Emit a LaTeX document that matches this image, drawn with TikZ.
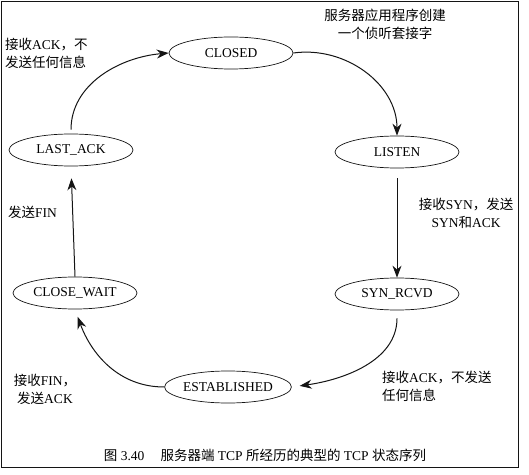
\documentclass[tikz,border=0pt]{standalone}
\usepackage{fontspec}
\setmainfont{Liberation Serif}
\newfontfamily\cjk{Noto Sans CJK SC}
\usetikzlibrary{arrows.meta, shapes.geometric}
\newcommand{\zh}[1]{{\cjk #1}}
\definecolor{ink}{RGB}{20,20,20}
\tikzset{
  stateNode/.style={
    draw=ink,
    line width=0.7pt,
    ellipse,
    minimum width=124pt,
    minimum height=32pt,
    inner sep=0pt,
    font=\fontsize{13.5}{16}\selectfont
  },
  trans/.style={-{Stealth[length=12pt,width=9pt]}, line width=1pt, draw=ink},
  note/.style={font=\fontsize{13.5}{18}\selectfont, inner sep=0pt},
  frame/.style={draw=ink, line width=1pt}
}

\begin{document}
\begin{tikzpicture}[x=1pt, y=1pt]
  \useasboundingbox (0,0) rectangle (529,474);
  \draw[frame] (1.5,7) rectangle (518,472.5);

  \node[stateNode] (closed) at (231,421) {CLOSED};
  \node[stateNode] (listen) at (397,322) {LISTEN};
  \node[stateNode] (synrcvd) at (397,180) {SYN\_RCVD};
  \node[stateNode] (established) at (228,87) {ESTABLISHED};
  \node[stateNode] (closewait) at (75,181) {CLOSE\_WAIT};
  \node[stateNode] (lastack) at (71,324) {LAST\_ACK};

  \node[note, align=center] (createNote) at (385,449.5) {\zh{服务器应用程序创建}\\\zh{一个侦听套接字}};
  \node[note, align=left, anchor=west] (ackNote) at (5,420.5) {\zh{接收}ACK\zh{，不}\\\zh{发送任何信息}};
  \node[note, anchor=west] (finNote) at (8,262) {\zh{发送}FIN};
  \node[note, align=center] (synNote) at (466,261) {\zh{接收}SYN\zh{，发送}\\SYN\zh{和}ACK};
  \node[note, align=center] (closeNote) at (45,84.5) {\zh{接收}FIN\zh{，}\\\zh{发送}ACK};
  \node[note, align=left, anchor=west] (estNote) at (382,87.5) {\zh{接收}ACK\zh{，不发送}\\\zh{任何信息}};

  \node[note, font=\fontsize{13.5}{16}\selectfont] (caption) at (265,19)
    {\zh{图} 3.40\hspace{1.2em}\zh{服务器端} TCP \zh{所经历的典型的} TCP \zh{状态序列}};

  \draw[trans] (closed.east) to[out=8, in=90] (listen.north);
  \draw[trans, shorten <=10pt] (listen.south) -- (synrcvd.north);
  \draw[trans, shorten <=8pt, shorten >=8pt] (synrcvd.south) to[out=270, in=8] (established.east);
  \draw[trans, shorten >=8pt] (established.west) to[out=180, in=290] (closewait.south);
  \draw[trans, shorten >=12pt] (closewait.north) -- (lastack.south);
  \draw[trans, shorten <=4pt] (lastack.north) to[out=90, in=185] (closed.west);
\end{tikzpicture}
\end{document}
